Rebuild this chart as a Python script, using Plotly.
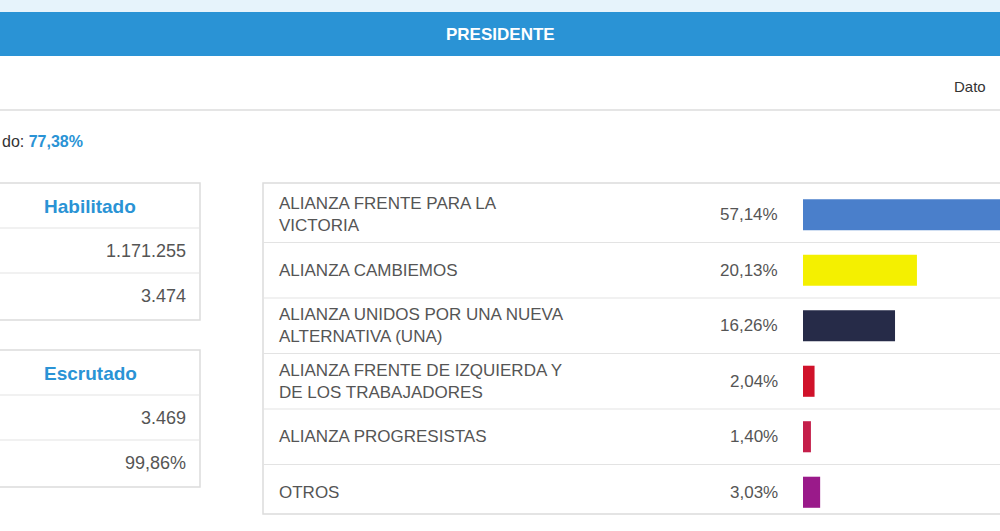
import plotly.graph_objects as go

parties = ["ALIANZA FRENTE PARA LA<br>VICTORIA", "ALIANZA CAMBIEMOS",
           "ALIANZA UNIDOS POR UNA NUEVA<br>ALTERNATIVA (UNA)",
           "ALIANZA FRENTE DE IZQUIERDA Y<br>DE LOS TRABAJADORES",
           "ALIANZA PROGRESISTAS", "OTROS"]
pct = [57.14, 20.13, 16.26, 2.04, 1.40, 3.03]
colors = ["#4a7fcb", "#f4f000", "#262b48", "#d0122a", "#c41e4a", "#9a1a8a"]

habilitado = ["1.171.255", "3.474"]
escrutado = ["3.469", "99,86%"]
participacion = "77,38%"

W, H = 1000, 531
def px(x): return x / W
def py(y): return 1 - y / H

FONT = "Liberation Sans, Arial, sans-serif"
GRAY = "#555555"
BLUE = "#2a93d5"

fig = go.Figure(go.Bar(
    x=pct, y=list(range(len(pct))), orientation="h",
    marker=dict(color=colors, line=dict(width=0)), width=0.56,
    hoverinfo="skip",
))

shapes = []
ann = []

# header band
shapes.append(dict(type="rect", xref="paper", yref="paper", x0=0, x1=1,
                   y0=py(56), y1=py(12), fillcolor=BLUE, line=dict(width=0), layer="below"))
shapes.append(dict(type="rect", xref="paper", yref="paper", x0=0, x1=1,
                   y0=py(12), y1=1, fillcolor="#e6f3fb", line=dict(width=0), layer="below"))
ann.append(dict(text="<b>PRESIDENTE</b>", x=0.5, y=py(34), xref="paper", yref="paper",
                xanchor="center", showarrow=False, font=dict(color="white", size=17, family=FONT)))
ann.append(dict(text="Dato", x=px(952), y=py(86), xref="paper", yref="paper", xanchor="left",
                showarrow=False, font=dict(color="#333", size=15, family=FONT)))
shapes.append(dict(type="line", xref="paper", yref="paper", x0=0, x1=1, y0=py(110), y1=py(110),
                   line=dict(color="#dddddd", width=1.5)))
ann.append(dict(text="do: <span style='color:%s'><b>%s</b></span>" % (BLUE, participacion),
                x=0, y=py(141), xref="paper", yref="paper", xanchor="left",
                showarrow=False, font=dict(color="#333", size=16, family=FONT)))

# left boxes
for top, title, vals in [(183, "Habilitado", habilitado), (350, "Escrutado", escrutado)]:
    shapes.append(dict(type="rect", xref="paper", yref="paper", x0=-0.01, x1=px(200),
                       y0=py(top + 137), y1=py(top), line=dict(color="#dcdcdc", width=1.5)))
    for k in range(1, 3):
        yy = top + 45 * k
        shapes.append(dict(type="line", xref="paper", yref="paper", x0=0, x1=px(200),
                           y0=py(yy), y1=py(yy), line=dict(color="#e3e3e3", width=1.2)))
    ann.append(dict(text="<b>%s</b>" % title, x=px(90), y=py(top + 23), xref="paper", yref="paper",
                    xanchor="center", showarrow=False, font=dict(color=BLUE, size=19, family=FONT)))
    for k, v in enumerate(vals):
        ann.append(dict(text=v, x=px(188), y=py(top + 68 + 45 * k), xref="paper", yref="paper",
                        xanchor="right", showarrow=False, font=dict(color=GRAY, size=18, family=FONT)))

# right table
shapes.append(dict(type="rect", xref="paper", yref="paper", x0=px(263), x1=1.01,
                   y0=py(514), y1=py(183), line=dict(color="#dcdcdc", width=1.5), layer="below"))
for i in range(len(pct) - 1):
    shapes.append(dict(type="line", xref="paper", yref="y", x0=px(263), x1=1,
                       y0=i + 0.5, y1=i + 0.5, line=dict(color="#e3e3e3", width=1.2), layer="below"))
for i, (p, v) in enumerate(zip(parties, pct)):
    ann.append(dict(text=p, x=px(277), y=i, xref="paper", yref="y", xanchor="left", align="left",
                    showarrow=False, font=dict(color=GRAY, size=17, family=FONT)))
    ann.append(dict(text=("%.2f%%" % v).replace(".", ","), x=px(780), y=i, xref="paper", yref="y",
                    xanchor="right", showarrow=False, font=dict(color=GRAY, size=17, family=FONT)))

for a in ann:
    a["yanchor"] = "middle"

fig.update_layout(
    width=W, height=H, margin=dict(l=0, r=0, t=0, b=0),
    paper_bgcolor="white", plot_bgcolor="rgba(0,0,0,0)", showlegend=False,
    xaxis=dict(domain=[px(803), 1], range=[0, 197 / 5.66], visible=False, fixedrange=True),
    yaxis=dict(domain=[py(520), py(187)], range=[len(pct) - 0.5, -0.5], visible=False, fixedrange=True),
    shapes=shapes, annotations=ann,
)
fig.write_html("out.html", config={"displayModeBar": False},
               post_script="document.body.style.margin='0';document.body.style.overflow='hidden';")
